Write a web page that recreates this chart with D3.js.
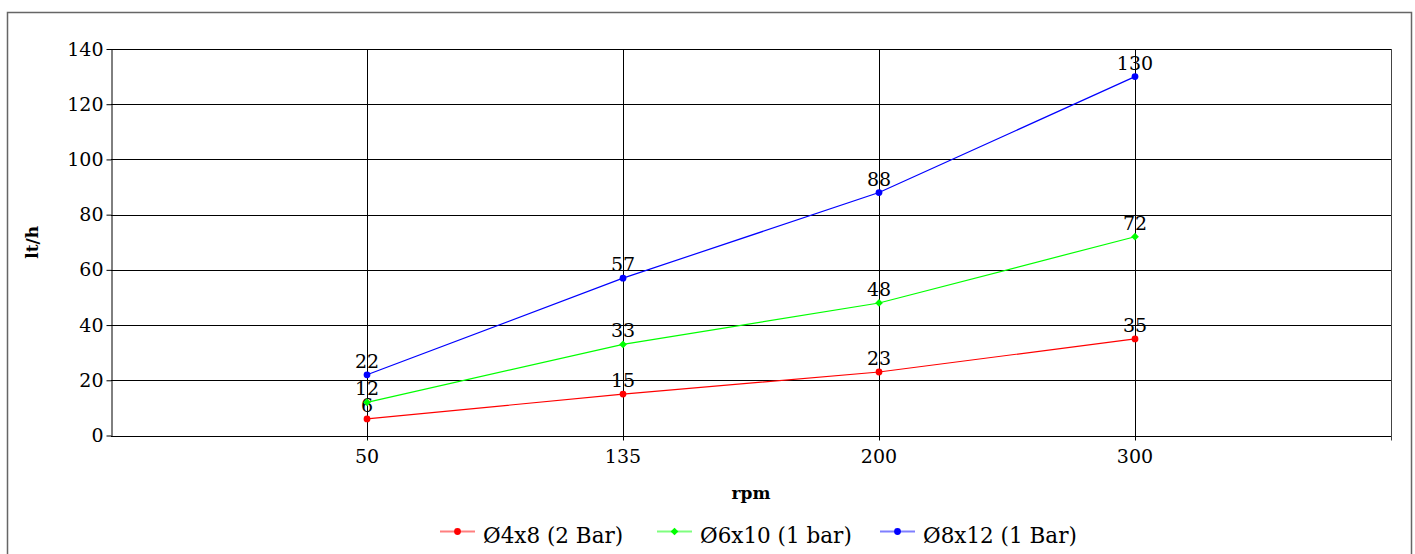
<!DOCTYPE html>
<html>
<head>
<meta charset="utf-8">
<script src="https://cdn.jsdelivr.net/npm/d3@7"></script>
<style>
  body { margin: 0; background: #fff; }
  text { font-family: "DejaVu Serif", serif; fill: #000; }
</style>
</head>
<body>
<div id="chart"></div>
<script>
// data
const categories = ["50", "135", "200", "300"];
const seriesNames = ["Ø4x8 (2 Bar)", "Ø6x10 (1 bar)", "Ø8x12 (1 Bar)"];
const seriesColors = ["#ff0000", "#00ff00", "#0000ff"];
const seriesMarkers = ["circle", "diamond", "circle"];
const values4x8 = [6, 15, 23, 35];
const values6x10 = [12, 33, 48, 72];
const values8x12 = [22, 57, 88, 130];
const yTicks = [0, 20, 40, 60, 80, 100, 120, 140];

const series = [values4x8, values6x10, values8x12].map((vals, i) => ({
  name: seriesNames[i], color: seriesColors[i], marker: seriesMarkers[i],
  values: vals.map((v, j) => ({ cat: categories[j], value: v }))
}));

const W = 1415, H = 554;
const margin = { top: 49, right: 24, bottom: 118.5, left: 111 };
const width = W - margin.left - margin.right,
      height = H - margin.top - margin.bottom;

const svg = d3.select("#chart").append("svg")
  .attr("width", W).attr("height", H);

// outer frame
svg.append("rect")
  .attr("x", 7.5).attr("y", 12.5)
  .attr("width", 1404).attr("height", 560)
  .attr("fill", "none").attr("stroke", "#666").attr("stroke-width", 1.5);

const g = svg.append("g")
  .attr("transform", "translate(" + margin.left + "," + margin.top + ")");

const x = d3.scalePoint().domain(categories).range([0, width]).padding(1);
const y = d3.scaleLinear().domain([0, 140]).range([height, 0]);

// horizontal grid
g.append("g").selectAll("line").data(yTicks).join("line")
  .attr("x1", 0).attr("x2", width)
  .attr("y1", d => Math.round(y(d)) + 0.5).attr("y2", d => Math.round(y(d)) + 0.5)
  .attr("stroke", "#000").attr("stroke-width", 1);

// vertical grid + right edge
g.append("g").selectAll("line").data(categories).join("line")
  .attr("x1", d => Math.round(x(d)) + 0.5).attr("x2", d => Math.round(x(d)) + 0.5)
  .attr("y1", 0).attr("y2", height + 5)
  .attr("stroke", "#000").attr("stroke-width", 1);
g.append("line")
  .attr("x1", width + 0.5).attr("x2", width + 0.5)
  .attr("y1", 0).attr("y2", height + 5)
  .attr("stroke", "#444").attr("stroke-width", 1);

// y axis
const yAxis = g.append("g")
  .attr("transform", "translate(0.5,0)")
  .call(d3.axisLeft(y).tickValues(yTicks).tickSize(5).tickSizeOuter(0).tickPadding(3));
yAxis.selectAll("text").style("font-size", "19px").attr("fill", "#000");
yAxis.selectAll("line, path").attr("stroke", "#000");

// x axis labels
g.append("g").selectAll("text").data(categories).join("text")
  .attr("x", d => x(d)).attr("y", height + 27)
  .attr("text-anchor", "middle").style("font-size", "19px")
  .text(d => d);

// axis titles
svg.append("text")
  .attr("x", margin.left + width / 2).attr("y", 499)
  .attr("text-anchor", "middle").style("font-size", "17px").style("font-weight", "bold")
  .text("rpm");
svg.append("text")
  .attr("transform", "translate(38," + (margin.top + height / 2) + ") rotate(-90)")
  .attr("text-anchor", "middle").style("font-size", "17px").style("font-weight", "bold")
  .text("lt/h");

// lines, markers, labels
const line = d3.line().x(d => x(d.cat)).y(d => y(d.value));
const symbol = m => d3.symbol().type(m === "diamond" ? d3.symbolSquare : d3.symbolCircle)
  .size(m === "diamond" ? 30 : 36)();
const rot = m => m === "diamond" ? " rotate(45)" : "";

series.forEach(s => {
  g.append("path").datum(s.values)
    .attr("d", line).attr("fill", "none")
    .attr("stroke", s.color).attr("stroke-width", 1.2);
  g.append("g").selectAll("path").data(s.values).join("path")
    .attr("transform", d => "translate(" + x(d.cat) + "," + y(d.value) + ")" + rot(s.marker))
    .attr("d", symbol(s.marker)).attr("fill", s.color);
  g.append("g").selectAll("text").data(s.values).join("text")
    .attr("x", d => x(d.cat)).attr("y", d => y(d.value) - 7)
    .attr("text-anchor", "middle").style("font-size", "19px")
    .text(d => d.value);
});

// legend
const legendX = [440, 657, 880];
const legend = svg.append("g").selectAll("g").data(series).join("g")
  .attr("transform", (d, i) => "translate(" + legendX[i] + ",531)");
legend.append("line")
  .attr("x1", 0).attr("x2", 35).attr("y1", 0.5).attr("y2", 0.5)
  .attr("stroke", d => d.color).attr("stroke-opacity", 0.5).attr("stroke-width", 2);
legend.append("path")
  .attr("transform", d => "translate(17.5,0.5)" + rot(d.marker))
  .attr("d", d => symbol(d.marker)).attr("fill", d => d.color);
legend.append("text")
  .attr("x", 43).attr("y", 12).style("font-size", "21.5px")
  .text(d => d.name);
</script>
</body>
</html>
